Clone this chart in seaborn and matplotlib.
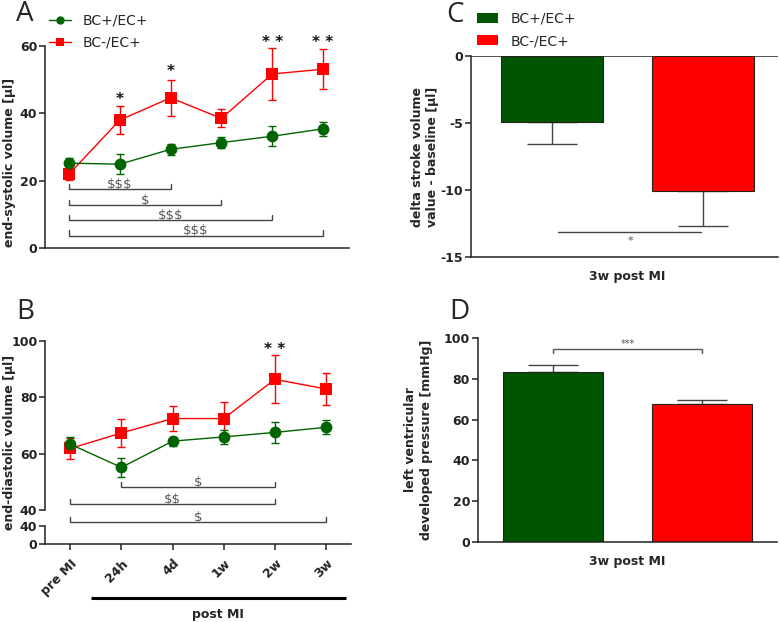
import numpy as np
import pandas as pd
import matplotlib
matplotlib.use("Agg")
import matplotlib.pyplot as plt
import seaborn as sns
from matplotlib.transforms import blended_transform_factory
from matplotlib.patches import Patch
from matplotlib.lines import Line2D

# ---------------- data ----------------
groups = ["BC+/EC+", "BC-/EC+"]
timepoints = ["pre MI", "24h", "4d", "1w", "2w", "3w"]

esv_green = [25.2, 24.9, 29.3, 31.3, 33.2, 35.4]
esv_green_err = [1.5, 3.0, 1.7, 1.6, 2.9, 2.1]
esv_red = [21.9, 38.0, 44.6, 38.5, 51.7, 53.1]
esv_red_err = [1.7, 4.1, 5.3, 2.7, 7.7, 6.0]

edv_green = [63.3, 55.1, 64.4, 65.9, 67.5, 69.3]
edv_green_err = [2.4, 3.4, 1.6, 2.4, 3.6, 2.5]
edv_red = [61.8, 67.3, 72.4, 72.4, 86.3, 82.9]
edv_red_err = [3.7, 5.0, 4.3, 5.9, 8.5, 5.6]

sv_delta = [-4.9, -10.1]
sv_delta_err = [1.7, 2.6]

lvdp = [83.4, 67.6]
lvdp_err = [3.1, 1.8]

# significance annotations
esv_brackets = [(0, 2, "$$$", 17.4), (0, 3, "$", 12.8), (0, 4, "$$$", 8.3), (0, 5, "$$$", 3.6)]
esv_stars = [(1, "*", 44.0), (2, "*", 52.4), (4, "* *", 61.0), (5, "* *", 61.0)]
edv_brackets = [(1, 4, "$", 48.0), (0, 4, "$$", 42.0), (0, 5, "$", 35.6)]
edv_stars = [(4, "* *", 96.9)]

line_colors = {"BC+/EC+": "#006400", "BC-/EC+": "#ff0000"}
bar_colors = {"BC+/EC+": "#005500", "BC-/EC+": "#ff0000"}
markers = {"BC+/EC+": "o", "BC-/EC+": "s"}

# ---------------- style ----------------
sns.set_theme(style="ticks")
plt.rcParams["font.family"] = ["DejaVu Sans"]
plt.rcParams["font.weight"] = "bold"
plt.rcParams["axes.unicode_minus"] = False
plt.rcParams["axes.linewidth"] = 1.1
plt.rcParams["axes.edgecolor"] = "#222222"
plt.rcParams["xtick.color"] = "#222222"
plt.rcParams["ytick.color"] = "#222222"

FS = 9
LEG_FS = 10
fig = plt.figure(figsize=(7.8, 6.22), dpi=100)
W, H = 780.0, 622.0


def ax_at(x0, y0, x1, y1):
    return fig.add_axes([x0 / W, 1 - y1 / H, (x1 - x0) / W, (y1 - y0) / H])


def line_df(g_vals, r_vals):
    return pd.DataFrame({
        "t": list(range(len(timepoints))) * 2,
        "v": list(g_vals) + list(r_vals),
        "group": [groups[0]] * len(timepoints) + [groups[1]] * len(timepoints),
    })


def draw_lines(ax, g_vals, g_err, r_vals, r_err, order):
    df = line_df(g_vals, r_vals)
    errs = {groups[0]: (g_vals, g_err), groups[1]: (r_vals, r_err)}
    for grp in order:
        sub = df[df.group == grp]
        v, e = errs[grp]
        ax.errorbar(range(len(timepoints)), v, yerr=e, fmt="none", ecolor=line_colors[grp],
                    elinewidth=1.0, capsize=3.0, capthick=1.0, zorder=2)
        sns.lineplot(data=sub, x="t", y="v", color=line_colors[grp], marker=markers[grp],
                     markersize=8.5 if grp == groups[0] else 8, markeredgewidth=0,
                     linewidth=1.0, ax=ax, legend=False, zorder=3)


def draw_bracket(ax, x0, x1, y, label, tick, up=True, color="#444444", fs=9.5):
    d = tick if up else -tick
    ax.plot([x0, x0, x1, x1], [y + d, y, y, y + d], color=color, lw=1.0, clip_on=False,
            solid_joinstyle="miter")
    ax.text((x0 + x1) / 2, y - 0.3 * tick, label, ha="center", va="bottom", fontsize=fs,
            color="#555555", fontweight="normal", parse_math=False)


# ---------------- Panel A ----------------
axA = ax_at(45, 46, 349, 248)
draw_lines(axA, esv_green, esv_green_err, esv_red, esv_red_err, [groups[1], groups[0]])
axA.set_xlim(-0.47, 5.51)
axA.set_ylim(0, 60)
axA.set_yticks([0, 20, 40, 60])
axA.set_xticks([])
axA.set_xlabel("")
axA.set_ylabel("")
axA.tick_params(axis="y", labelsize=FS, length=4, width=1.1, pad=1.5)
sns.despine(ax=axA)
fig.text(10 / W, 1 - 162 / H, "end-systolic volume [µl]", rotation=90, ha="center",
         va="center", fontsize=FS, fontweight="bold")
for x0, x1, lab, y in esv_brackets:
    draw_bracket(axA, x0, x1, y, lab, 1.6)
for x, s, y in esv_stars:
    axA.text(x, y, s, ha="center", va="center", fontsize=11, color="#111111")
handles = [Line2D([], [], color=line_colors[g], marker=markers[g],
                  markersize=6 if i == 0 else 6, markeredgewidth=0, lw=1.0)
           for i, g in enumerate(groups)]
fig.legend(handles, groups, loc="upper left", bbox_to_anchor=(49 / W, 1 - 14 / H),
           frameon=False, handlelength=1.6, handletextpad=0.8,
           labelspacing=0.55, borderpad=0, borderaxespad=0,
           prop={"size": LEG_FS, "weight": "normal"})

# ---------------- Panel B ----------------
axBu = ax_at(45, 340.7, 351, 510)
axBl = ax_at(45, 525.7, 351, 544.3)
draw_lines(axBu, edv_green, edv_green_err, edv_red, edv_red_err, [groups[1], groups[0]])
for ax in (axBu, axBl):
    ax.set_xlim(-0.495, 5.49)
axBu.set_ylim(40, 100)
axBu.set_yticks([40, 60, 80, 100])
axBu.set_xticks([])
axBu.set_xlabel("")
axBu.set_ylabel("")
axBu.spines[["top", "right", "bottom"]].set_visible(False)
axBu.tick_params(axis="y", labelsize=FS, length=4, width=1.1, pad=1.5)
axBl.set_ylim(0, 40)
axBl.set_yticks([0, 40])
axBl.set_xticks(range(len(timepoints)))
axBl.set_xticklabels(timepoints, rotation=45, ha="right", rotation_mode="anchor",
                     fontsize=FS, fontweight="bold")
axBl.tick_params(axis="y", labelsize=FS, length=4, width=1.1, pad=1.5)
axBl.tick_params(axis="x", length=4, width=1.1, pad=5)
axBl.patch.set_alpha(0)
axBu.patch.set_alpha(0)
sns.despine(ax=axBl)
for x0, x1, lab, y in edv_brackets:
    draw_bracket(axBu, x0, x1, y, lab, 1.8)
for x, s, y in edv_stars:
    axBu.text(x, y, s, ha="center", va="center", fontsize=11, color="#111111")
fig.text(10 / W, 1 - 442.5 / H, "end-diastolic volume [µl]", rotation=90, ha="center",
         va="center", fontsize=FS, fontweight="bold")
tr = blended_transform_factory(axBl.transData, axBl.transAxes)
axBl.plot([0.41, 5.40], [-2.89, -2.89], color="black", lw=2.2, transform=tr, clip_on=False,
          solid_capstyle="butt")
axBl.text(2.88, -3.8, "post MI", transform=tr, ha="center", va="center", fontsize=FS,
          fontweight="bold")

# ---------------- Panel C ----------------
axC = ax_at(471, 56, 778, 256.7)
sns.barplot(x=groups, y=sv_delta, hue=groups, palette=bar_colors, saturation=1, width=0.67,
            edgecolor="#222222", linewidth=0.8, errorbar=None, legend=False, ax=axC, zorder=2)
axC.errorbar(range(2), sv_delta, yerr=[sv_delta_err, [0, 0]], fmt="none", ecolor="#444444",
             elinewidth=1.0, capsize=18, capthick=1.0, zorder=1)
axC.set_xlim(-0.536, 1.497)
axC.set_ylim(-15, 0)
axC.set_yticks([0, -5, -10, -15])
axC.set_xticks([])
axC.axhline(0, color="#222222", lw=1.1, zorder=3)
axC.tick_params(axis="y", labelsize=FS, length=4, width=1.1, pad=1.5)
sns.despine(ax=axC)
axC.set_ylabel("")
fig.text(425 / W, 1 - 157 / H, "delta stroke volume\nvalue - baseline [µl]", rotation=90,
         ha="center", va="center", fontsize=FS, fontweight="bold", linespacing=1.25,
         multialignment="center")
axC.text(0.508, -0.101, "3w post MI", transform=axC.transAxes, ha="center", va="center",
         fontsize=FS, fontweight="bold")
axC.plot([0.04, 0.99], [-13.18, -13.18], color="#444444", lw=1.0)
axC.text(0.52, -13.85, "*", ha="center", va="center", fontsize=8, color="#555555",
         fontweight="normal")
fig.legend([Patch(facecolor=bar_colors[g], edgecolor="none") for g in groups], groups,
           loc="upper left", bbox_to_anchor=(476.5 / W, 1 - 11.5 / H), frameon=False,
           handlelength=1.58, handleheight=0.76, handletextpad=0.86,
           labelspacing=0.62, borderpad=0, borderaxespad=0,
           prop={"size": LEG_FS, "weight": "normal"})

# ---------------- Panel D ----------------
axD = ax_at(477.7, 337.7, 776.7, 542.3)
sns.barplot(x=groups, y=lvdp, hue=groups, palette=bar_colors, saturation=1, width=0.67,
            edgecolor="#222222", linewidth=0.8, errorbar=None, legend=False, ax=axD, zorder=2)
axD.errorbar(range(2), lvdp, yerr=[[0, 0], lvdp_err], fmt="none", ecolor="#444444",
             elinewidth=1.0, capsize=18, capthick=1.0, zorder=1)
axD.set_xlim(-0.505, 1.50)
axD.set_ylim(0, 100)
axD.set_yticks([0, 20, 40, 60, 80, 100])
axD.set_xticks([])
axD.tick_params(axis="y", labelsize=FS, length=4, width=1.1, pad=1.5)
sns.despine(ax=axD)
axD.set_ylabel("")
fig.text(418.5 / W, 1 - 440 / H, "left ventricular\ndeveloped pressure [mmHg]", rotation=90,
         ha="center", va="center", fontsize=FS, fontweight="bold", linespacing=1.3,
         multialignment="center")
axD.text(0.5, -0.095, "3w post MI", transform=axD.transAxes, ha="center", va="center",
         fontsize=FS, fontweight="bold")
axD.plot([0, 0, 1, 1], [92.7, 94.5, 94.5, 92.7], color="#555555", lw=1.0, clip_on=False)
axD.text(0.5, 94.3, "***", ha="center", va="bottom", fontsize=7, color="#555555",
         fontweight="normal")

# ---------------- panel letters ----------------
for lab, x, y in [("A", 16, 0), ("B", 16, 298), ("C", 446, 1), ("D", 449, 298)]:
    fig.text(x / W, 1 - y / H, lab, ha="left", va="top", fontsize=20,
             family=["Open Sans", "DejaVu Sans"], fontweight="normal")

fig.savefig("out.png", dpi=100)
